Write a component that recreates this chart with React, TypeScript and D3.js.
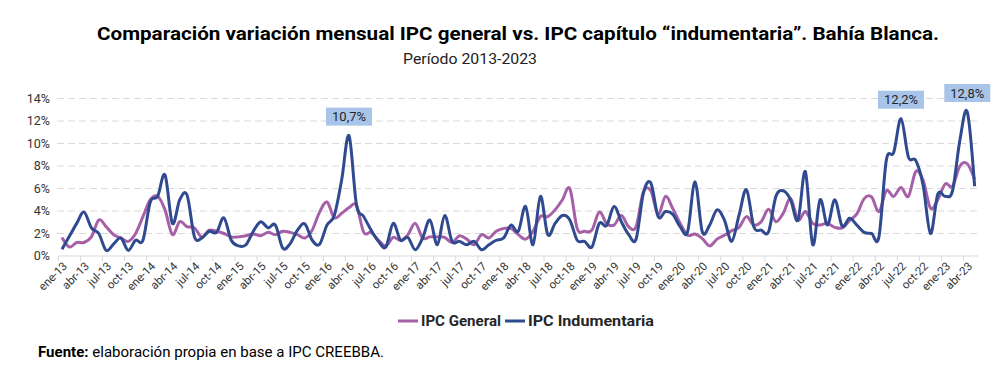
import { useRef, useEffect } from 'react';
import * as d3 from 'd3';

// monthly variation (%), ene-13 .. may-23
const general = [
  1.65, 0.8, 1.2, 1.2, 1.7, 3.2, 2.6, 1.9, 1.6, 1.3, 2.0, 3.5,
  5.0, 5.3, 4.1, 1.9, 3.05, 2.6, 2.5, 1.7, 2.3, 2.2, 2.0, 1.7,
  1.7, 1.8, 1.95, 1.8, 2.1, 1.9, 2.2, 2.1, 1.9, 1.6, 2.3, 3.9,
  4.8, 3.4, 3.8, 4.3, 4.5, 2.1, 2.1, 1.4, 0.9, 1.65, 1.4, 1.9,
  2.9, 1.6, 1.7, 1.7, 1.65, 1.2, 1.8, 1.5, 1.0, 1.9, 1.6, 2.2,
  2.45, 2.45, 1.9, 1.5, 2.2, 3.5, 3.5, 4.1, 5.0, 6.0, 2.45, 2.2,
  2.3, 3.9, 2.9, 2.75, 3.6, 2.6, 2.6, 5.7, 5.8, 3.7, 5.3, 4.2,
  2.9, 1.85, 1.95, 1.55, 0.9, 1.5, 1.85, 2.25, 2.55, 3.5, 2.75, 3.05,
  4.15, 3.05, 3.8, 5.1, 3.2, 3.95, 2.9, 2.75, 2.9, 2.55, 2.5, 3.15,
  3.75, 5.1, 5.25, 3.95, 5.8, 5.3, 6.1, 5.3, 7.5, 6.75, 4.25, 5.0,
  6.4, 6.2, 8.0, 8.2, 6.8
];

const indumentaria = [
  0.6, 1.75, 2.9, 3.9, 2.5, 2.0, 0.5, 1.05, 1.6, 0.5, 1.4, 1.4,
  4.8, 5.3, 7.2, 2.9, 5.0, 5.4, 1.7, 1.6, 2.2, 2.1, 3.4, 1.4,
  0.9, 1.0, 2.2, 3.05, 2.5, 2.75, 0.7, 1.1, 2.3, 2.85, 1.4, 1.05,
  2.75, 3.6, 6.75, 10.7, 4.6, 3.5, 2.3, 1.3, 0.8, 2.9, 1.4, 1.65,
  0.55, 1.6, 3.2, 1.0, 3.6, 1.3, 1.3, 1.0, 1.3, 0.55, 1.0, 1.4,
  1.6, 2.75, 2.2, 4.4, 1.0, 5.3, 1.9, 2.9, 3.6, 3.2, 1.4, 1.3,
  0.8, 2.9, 2.7, 4.4, 3.05, 1.9, 1.5, 5.6, 6.5, 3.5, 3.95, 3.7,
  2.6, 2.15, 6.6, 2.15, 2.75, 4.1, 3.2, 1.3, 3.65, 5.9, 2.6, 2.3,
  2.15, 5.3, 5.8, 5.0, 3.2, 7.5, 1.0, 5.0, 2.75, 5.0, 2.65, 3.35,
  2.75, 2.1, 2.0, 1.7, 8.5, 9.2, 12.2, 8.8, 8.5, 6.3, 2.0, 5.5,
  5.3, 5.8, 10.3, 12.8, 6.2
];

const monthNames = ['ene', 'feb', 'mar', 'abr', 'may', 'jun', 'jul', 'ago', 'sep', 'oct', 'nov', 'dic'];
const firstYear = 13;
const yTicks = [0, 2, 4, 6, 8, 10, 12, 14];
const labelled = [39, 114, 123];

const series = [
  { name: 'IPC General', values: general, color: '#a660a8' },
  { name: 'IPC Indumentaria', values: indumentaria, color: '#2f4a8e' }
];

const FONT = "'Liberation Sans Narrow', Roboto, sans-serif";

export default function App() {
  const svgRef = useRef(null);

  useEffect(() => {
    const width = 1006;
    const height = 370;
    const svg = d3.select(svgRef.current)
      .attr('width', width)
      .attr('height', height);
    svg.selectAll('*').remove();

    const n = general.length;
    const cats = d3.range(n).map(i => monthNames[i % 12] + '-' + (firstYear + Math.floor(i / 12)));

    const x = d3.scaleBand().domain(cats).range([58.3, 978.3]);
    const cx = (i: number) => x(cats[i]) + x.bandwidth() / 2;
    const y = d3.scaleLinear().domain([0, 14]).range([256, 98.5]);

    // title
    svg.append('text')
      .attr('x', 518).attr('y', 40)
      .attr('text-anchor', 'middle')
      .attr('font-family', FONT)
      .attr('font-weight', 'bold')
      .attr('font-size', 18)
      .attr('textLength', 842)
      .attr('lengthAdjust', 'spacingAndGlyphs')
      .attr('fill', '#000')
      .text('Comparación variación mensual IPC general vs. IPC capítulo “indumentaria”. Bahía Blanca.');

    svg.append('text')
      .attr('x', 470).attr('y', 64)
      .attr('text-anchor', 'middle')
      .attr('font-family', FONT)
      .attr('font-size', 14)
      .attr('textLength', 134)
      .attr('lengthAdjust', 'spacingAndGlyphs')
      .attr('fill', '#222')
      .text('Período 2013-2023');

    // gridlines
    svg.append('g')
      .selectAll('line')
      .data(yTicks.filter(d => d > 0))
      .enter()
      .append('line')
      .attr('x1', 57).attr('x2', 979)
      .attr('y1', d => y(d)).attr('y2', d => y(d))
      .attr('stroke', '#d9d9d9')
      .attr('stroke-width', 1)
      .attr('stroke-dasharray', '7,4');

    // y labels
    svg.append('g')
      .selectAll('text')
      .data(yTicks)
      .enter()
      .append('text')
      .attr('x', 50)
      .attr('y', d => y(d))
      .attr('dy', '0.35em')
      .attr('text-anchor', 'end')
      .attr('font-family', FONT)
      .attr('font-size', 12.5)
      .attr('fill', '#333')
      .text(d => d + '%');

    // x axis line and ticks
    svg.append('line')
      .attr('x1', 58.3).attr('x2', 978.3)
      .attr('y1', 256).attr('y2', 256)
      .attr('stroke', '#d9d9d9');

    const tickIdx = d3.range(0, n, 3);
    svg.append('g')
      .selectAll('line')
      .data(tickIdx)
      .enter()
      .append('line')
      .attr('x1', d => x(cats[d])).attr('x2', d => x(cats[d]))
      .attr('y1', 256).attr('y2', 261)
      .attr('stroke', '#d9d9d9');

    svg.append('g')
      .selectAll('text')
      .data(tickIdx)
      .enter()
      .append('text')
      .attr('transform', d => `translate(${cx(d) + 3},${264}) rotate(-45)`)
      .attr('text-anchor', 'end')
      .attr('dy', '0.35em')
      .attr('font-family', FONT)
      .attr('font-size', 11.5)
      .attr('fill', '#333')
      .text(d => cats[d]);

    // lines
    const line = d3.line<number>()
      .x((d, i) => cx(i))
      .y(d => y(d))
      .curve(d3.curveCardinal.tension(0));

    series.forEach(s => {
      svg.append('path')
        .datum(s.values)
        .attr('d', line)
        .attr('fill', 'none')
        .attr('stroke', s.color)
        .attr('stroke-width', 3)
        .attr('stroke-linejoin', 'round');
    });

    // callouts
    const call = svg.append('g')
      .selectAll('g')
      .data(labelled)
      .enter()
      .append('g')
      .attr('transform', d => `translate(${cx(d)},${y(indumentaria[d]) - 19})`);
    call.append('rect')
      .attr('x', -23).attr('y', -9)
      .attr('width', 46).attr('height', 18)
      .attr('fill', '#a9c4e9');
    call.append('text')
      .attr('text-anchor', 'middle')
      .attr('dy', '0.35em')
      .attr('font-family', FONT)
      .attr('font-size', 13)
      .attr('fill', '#262626')
      .text(d => d3.format('.1f')(indumentaria[d]).replace('.', ',') + '%');

    // legend
    const legendX = [398, 505];
    const legendW = [80, 126];
    series.forEach((s, k) => {
      svg.append('line')
        .attr('x1', legendX[k]).attr('x2', legendX[k] + 20)
        .attr('y1', 321).attr('y2', 321)
        .attr('stroke', s.color)
        .attr('stroke-width', 3);
      svg.append('text')
        .attr('x', legendX[k] + 23).attr('y', 326)
        .attr('font-family', FONT)
        .attr('font-weight', 'bold')
        .attr('font-size', 15)
        .attr('textLength', legendW[k])
        .attr('lengthAdjust', 'spacingAndGlyphs')
        .attr('fill', '#262626')
        .text(s.name);
    });

    // source
    const src = svg.append('text')
      .attr('x', 38).attr('y', 357)
      .attr('font-family', FONT)
      .attr('font-size', 14)
      .attr('textLength', 346)
      .attr('lengthAdjust', 'spacingAndGlyphs')
      .attr('fill', '#000');
    src.append('tspan').attr('font-weight', 'bold').text('Fuente:');
    src.append('tspan').text(' elaboración propia en base a IPC CREEBBA.');
  }, []);

  return (
    <svg ref={svgRef} style={{ position: 'absolute', left: 0, top: 0, display: 'block' }} />
  );
}
